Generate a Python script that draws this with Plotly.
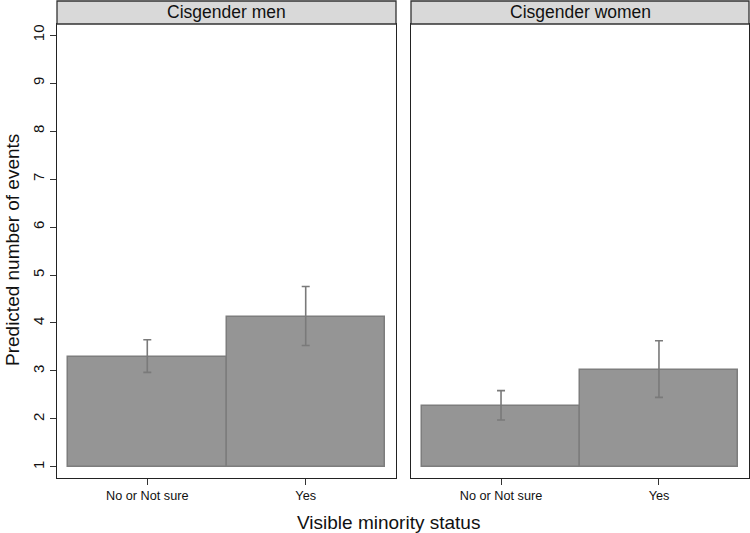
import plotly.graph_objects as go

categories = ["No or Not sure", "Yes"]
panels = ["Cisgender men", "Cisgender women"]
men_pred = [3.29, 4.13]
men_upper = [3.65, 4.76]
men_lower = [2.97, 3.53]
women_pred = [2.27, 3.03]
women_upper = [2.59, 3.63]
women_lower = [1.98, 2.45]
base_value = 1
y_ticks = list(range(1, 11))

W, H = 750, 533
FONT = "Liberation Sans, Arial, Helvetica"
fig = go.Figure()

series = [(men_pred, men_upper, men_lower), (women_pred, women_upper, women_lower)]
for i, (pred, up, lo) in enumerate(series):
    xa = "x" if i == 0 else "x2"
    ya = "y" if i == 0 else "y2"
    fig.add_trace(go.Bar(
        x=[0, 1], y=[p - base_value for p in pred], base=base_value,
        width=1.0, xaxis=xa, yaxis=ya,
        marker=dict(color="#959595", line=dict(color="#7d7d7d", width=1.5)),
        error_y=dict(type="data", symmetric=False,
                     array=[u - p for u, p in zip(up, pred)],
                     arrayminus=[p - l for p, l in zip(pred, lo)],
                     color="#7a7a7a", thickness=1.6, width=4),
        showlegend=False, hoverinfo="skip"))

x_dom1 = [57 / W, 396 / W]
x_dom2 = [411 / W, 749 / W]
y_dom = [1 - 478 / H, 1 - 24 / H]

axis_common = dict(showgrid=False, zeroline=False, showline=True, mirror=True,
                   linecolor="#222222", linewidth=1.3)
xcommon = dict(axis_common, range=[-0.57, 1.57], tickvals=[0, 1], ticktext=categories,
               ticks="outside", ticklen=6, tickcolor="#333333", tickwidth=1,
               tickfont=dict(family=FONT, size=12.7, color="#111111"))
fig.update_layout(
    width=W, height=H, margin=dict(l=0, r=0, t=0, b=0),
    paper_bgcolor="white", plot_bgcolor="white", bargap=0,
    xaxis=dict(xcommon, domain=x_dom1, anchor="y"),
    xaxis2=dict(xcommon, domain=x_dom2, anchor="y2"),
    yaxis=dict(axis_common, domain=y_dom, range=[0.77, 10.23], tickvals=y_ticks,
               ticks="outside", ticklen=6, tickcolor="#333333", tickwidth=1,
               tickangle=-90, anchor="x",
               tickfont=dict(family=FONT, size=15, color="#111111")),
    yaxis2=dict(axis_common, domain=y_dom, range=[0.77, 10.23], showticklabels=False,
                ticks="", anchor="x2"),
)

shapes = []
annotations = []
for dom, label in zip([x_dom1, x_dom2], panels):
    shapes.append(dict(type="rect", xref="paper", yref="paper",
                       x0=dom[0], x1=dom[1], y0=y_dom[1], y1=1 - 1 / H,
                       fillcolor="#d9d9d9", line=dict(color="#333333", width=1.3)))
    annotations.append(dict(xref="paper", yref="paper", x=(dom[0] + dom[1]) / 2,
                            y=(y_dom[1] + 1 - 1 / H) / 2, text=label, showarrow=False,
                            xanchor="center", yanchor="middle",
                            font=dict(family=FONT, size=17.5, color="#111111")))
annotations.append(dict(xref="paper", yref="paper", x=388 / W, y=1 - 522 / H,
                        text="Visible minority status", showarrow=False,
                        xanchor="center", yanchor="middle",
                        font=dict(family=FONT, size=19, color="#111111")))
annotations.append(dict(xref="paper", yref="paper", x=12 / W, y=1 - 250 / H,
                        text="Predicted number of events", showarrow=False, textangle=-90,
                        xanchor="center", yanchor="middle",
                        font=dict(family=FONT, size=19, color="#111111")))
fig.update_layout(shapes=shapes, annotations=annotations)

fig.write_html("out.html", config={"displayModeBar": False},
               post_script="document.body.style.margin='0';document.body.style.overflow='hidden';")
